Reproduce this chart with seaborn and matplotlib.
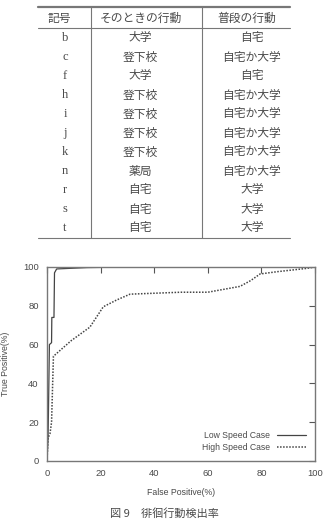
import matplotlib
matplotlib.use("Agg")
import matplotlib.pyplot as plt
import seaborn as sns
import pandas as pd

# ---- table data ----
table_header = ["記号", "そのときの行動", "普段の行動"]
table_ids = ["b", "c", "f", "h", "i", "j", "k", "n", "r", "s", "t"]
table_now = ["大学", "登下校", "大学", "登下校", "登下校", "登下校", "登下校", "薬局", "自宅", "自宅", "自宅"]
table_usual = ["自宅", "自宅か大学", "自宅", "自宅か大学", "自宅か大学", "自宅か大学",
               "自宅か大学", "自宅か大学", "大学", "大学", "大学"]

# ---- chart data ----
low_fp = [0, 0.4, 0.9, 1.7, 1.8, 2.6, 2.8, 3.6, 15, 30, 100]
low_tp = [0, 12, 60, 61, 74, 74, 97, 99, 99.7, 100, 100]
high_fp = [0, 0.4, 1.1, 1.7, 2.4, 9, 16, 21, 26, 31, 50, 60, 72, 76, 79.5, 86, 97, 100]
high_tp = [0, 12, 14, 20, 54, 62, 69, 79.5, 83, 86, 87, 87, 90, 93, 96.4, 97.6, 99.3, 100]
x_ticks = [0, 20, 40, 60, 80, 100]
y_ticks = [0, 20, 40, 60, 80, 100]
caption = "図 9　徘徊行動検出率"

sns.set_theme(style="white")
plt.rcParams["font.family"] = ["Liberation Sans", "DejaVu Sans"]

W, H = 326, 519
fig = plt.figure(figsize=(W / 100, H / 100), dpi=100)

txt_col = "#4a4a4a"
rule_col = "#777777"

# ---- table (pixel coordinate axes) ----
tax = fig.add_axes([0, 0, 1, 1])
tax.set_xlim(0, W)
tax.set_ylim(H, 0)
tax.axis("off")

cjk = ["Noto Sans CJK JP", "DejaVu Sans"]
serif = ["Liberation Serif", "DejaVu Serif"]
fs = 8.5
head_x = [59, 141, 247]
body_x = [65, 140, 252]
head_y = 18
row0, dy = 38, 19
for x, t in zip(head_x, table_header):
    tax.text(x, head_y, t, ha="center", va="center", fontsize=fs, family=cjk, color=txt_col)
for i, (a, b, c) in enumerate(zip(table_ids, table_now, table_usual)):
    y = row0 + i * dy
    tax.text(body_x[0], y, a, ha="center", va="center", fontsize=fs + 0.5, family=serif, color=txt_col)
    tax.text(body_x[1], y, b, ha="center", va="center", fontsize=fs, family=cjk, color=txt_col)
    tax.text(body_x[2], y, c, ha="center", va="center", fontsize=fs, family=cjk, color=txt_col)
last_y = row0 + (len(table_ids) - 1) * dy
tax.plot([38, 290], [7, 7], color=rule_col, lw=1.6)
tax.plot([38, 290], [28, 28], color=rule_col, lw=0.8)
tax.plot([38, 290], [last_y + 10, last_y + 10], color=rule_col, lw=0.8)
for vx in [91, 202]:
    tax.plot([vx, vx], [7, last_y + 10], color=rule_col, lw=0.8)

tax.text(164, 518.5, caption, ha="center", va="bottom", fontsize=8, family=cjk, color=txt_col)

# ---- chart ----
ax = fig.add_axes([47 / W, (H - 461) / H, 268 / W, 194 / H])
df_low = pd.DataFrame({"fp": low_fp, "tp": low_tp})
df_high = pd.DataFrame({"fp": high_fp, "tp": high_tp})
line_col = "#444444"
sns.lineplot(data=df_low, x="fp", y="tp", ax=ax, sort=False, estimator=None,
             color=line_col, lw=0.9, label="Low Speed Case")
sns.lineplot(data=df_high, x="fp", y="tp", ax=ax, sort=False, estimator=None,
             color=line_col, lw=1.1, linestyle=(0, (1, 1)), label="High Speed Case")
ax.set_xlim(0, 100)
ax.set_ylim(0, 100)
ax.set_xticks(x_ticks)
ax.set_yticks(y_ticks)
ax.tick_params(direction="in", top=True, right=True, length=4, width=0.8,
               colors="#555555", labelsize=6.8, pad=6, labelcolor=txt_col)
ax.tick_params(labeltop=False, labelright=False)
for s in ax.spines.values():
    s.set_color("#777777")
    s.set_linewidth(1.0)
ax.set_xlabel("False Positive(%)", fontsize=6.3, color=txt_col, labelpad=7)
ax.set_ylabel("True Positive(%)", fontsize=6.3, color=txt_col, labelpad=9)
ax.grid(False)
leg = ax.legend(loc="lower right", frameon=False, markerfirst=False, fontsize=6.2,
                handlelength=3.4, handletextpad=0.8, labelspacing=0.45,
                borderaxespad=0.6)
for t in leg.get_texts():
    t.set_color(txt_col)

fig.savefig("out.png", dpi=100)
